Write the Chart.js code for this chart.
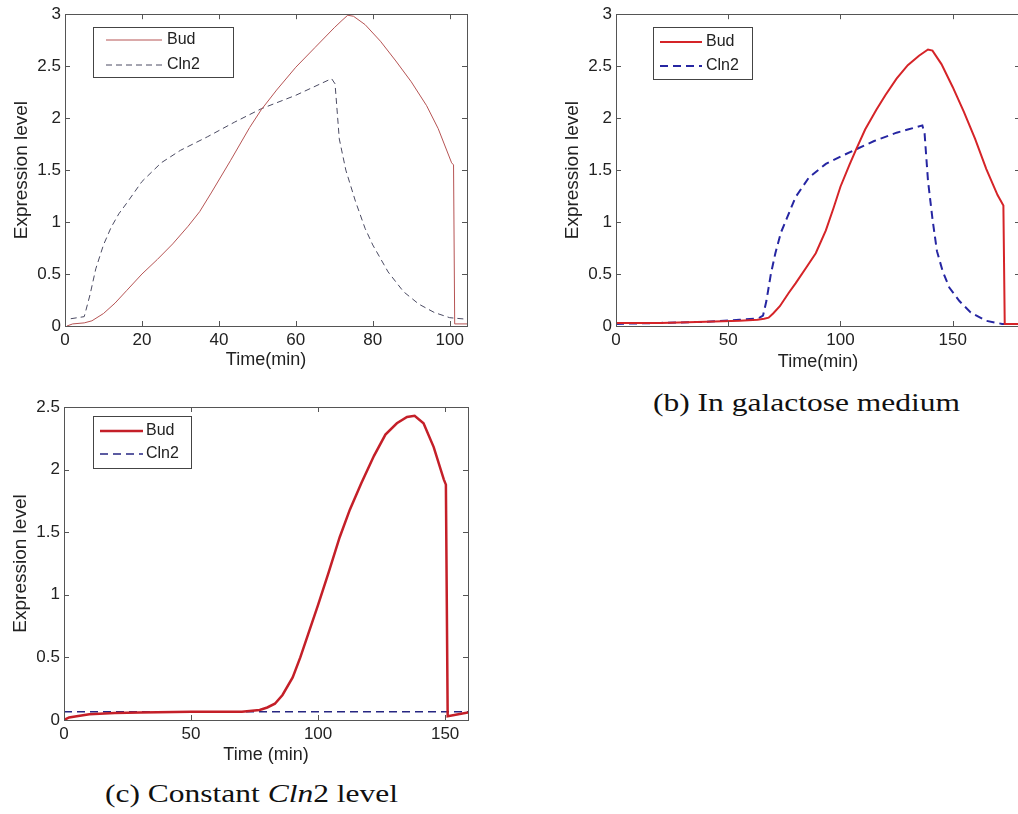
<!DOCTYPE html>
<html>
<head>
<meta charset="utf-8">
<script src="https://cdn.jsdelivr.net/npm/chart.js@4.4.1/dist/chart.umd.min.js"></script>
<style>
  html, body { margin: 0; padding: 0; background: #fff; }
  body { width: 1018px; height: 814px; overflow: hidden; position: relative; }
  canvas { position: absolute; }
  .caption {
    position: absolute; font-family: "Liberation Serif", serif; font-size: 25px; line-height: 25px;
    color: #111; white-space: nowrap; transform: scaleX(1.26); transform-origin: left top;
  }
</style>
</head>
<body>
<canvas id="chartA" width="480" height="380" style="left:0;top:0"></canvas>
<canvas id="chartB" width="500" height="380" style="left:540px;top:0"></canvas>
<canvas id="chartC" width="480" height="400" style="left:0;top:380px"></canvas>
<div class="caption" style="left:653px;top:390px">(b) In galactose medium</div>
<div class="caption" style="left:105px;top:781px">(c) Constant <i>Cln</i>2 level</div>
<script>
// (a) normal cycle
const budTimeA  = [0.5, 2, 5, 7, 10, 13, 16, 20, 24, 28, 32, 35, 38, 43, 48, 51, 55, 60, 65, 70, 72, 73.5, 75, 78, 82, 86, 90, 94, 97, 100.5, 101, 101.3, 104.5];
const budLevelA = [0, 0.02, 0.03, 0.05, 0.12, 0.22, 0.34, 0.5, 0.64, 0.79, 0.96, 1.1, 1.28, 1.59, 1.91, 2.08, 2.27, 2.49, 2.68, 2.87, 2.94, 2.99, 2.98, 2.9, 2.74, 2.55, 2.35, 2.12, 1.9, 1.57, 1.55, 0.02, 0.02];
const cln2TimeA  = [1.5, 5, 6.5, 8, 10, 12, 14, 16, 20, 25, 30, 37, 44, 51, 60, 69.3, 70.2, 71.3, 73, 75.5, 78, 80, 84, 88, 92, 96, 100, 104.5];
const cln2LevelA = [0.07, 0.09, 0.3, 0.55, 0.78, 0.95, 1.08, 1.18, 1.39, 1.57, 1.69, 1.82, 1.96, 2.09, 2.22, 2.38, 2.33, 1.8, 1.5, 1.2, 0.94, 0.78, 0.52, 0.33, 0.21, 0.13, 0.08, 0.065];
const xTicksA = [0, 20, 40, 60, 80, 100];
const yTicksA = [0, 0.5, 1, 1.5, 2, 2.5, 3];

// (b) galactose medium
const budTimeB  = [0, 20, 40, 55, 63, 66, 68, 70, 73, 77, 80, 85, 89, 93.5, 97, 100, 104, 107, 111, 116, 120, 125, 130, 135, 139, 141, 145, 150, 155, 160, 165, 170, 172.6, 173.2, 180];
const budLevelB = [0.03, 0.03, 0.04, 0.05, 0.06, 0.07, 0.08, 0.12, 0.19, 0.32, 0.41, 0.57, 0.7, 0.92, 1.14, 1.34, 1.55, 1.7, 1.89, 2.08, 2.22, 2.38, 2.51, 2.6, 2.66, 2.65, 2.52, 2.3, 2.06, 1.8, 1.51, 1.26, 1.16, 0.02, 0.02];
const cln2TimeB  = [0, 20, 40, 55, 62, 64, 65.5, 67, 69, 71, 73.5, 76, 80, 86, 93.5, 101, 107, 115, 125, 130, 136.5, 137.5, 139, 141, 143, 145.5, 148.5, 153, 158, 165, 172, 180];
const cln2LevelB = [0.02, 0.03, 0.04, 0.06, 0.07, 0.08, 0.1, 0.24, 0.5, 0.7, 0.9, 1.03, 1.24, 1.43, 1.56, 1.64, 1.7, 1.78, 1.86, 1.89, 1.93, 1.85, 1.4, 1.03, 0.72, 0.53, 0.37, 0.24, 0.13, 0.05, 0.02, 0.02];
const xTicksB = [0, 50, 100, 150];
const yTicksB = [0, 0.5, 1, 1.5, 2, 2.5, 3];

// (c) constant Cln2
const budTimeC  = [0, 2, 5, 10, 20, 30, 50, 70, 77, 80, 83, 86, 90, 93, 96, 100, 104, 108.5, 112.5, 117, 122, 126.5, 131, 135, 138, 141.5, 145.5, 149.5, 150.3, 151, 159];
const budLevelC = [0, 0.02, 0.03, 0.045, 0.055, 0.06, 0.065, 0.065, 0.08, 0.1, 0.13, 0.2, 0.34, 0.5, 0.68, 0.92, 1.17, 1.46, 1.68, 1.89, 2.11, 2.28, 2.37, 2.42, 2.43, 2.37, 2.18, 1.92, 1.88, 0.03, 0.06];
const cln2TimeC  = [0, 159];
const cln2LevelC = [0.065, 0.065];
const xTicksC = [0, 50, 100, 150];
const yTicksC = [0, 0.5, 1, 1.5, 2, 2.5];

const sans = '"Liberation Sans", Arial, sans-serif';

function points(xs, ys) {
  return xs.map((x, i) => ({ x: x, y: ys[i] }));
}

// matlab-ish box: frame, inward ticks on all four sides, boxed legend
const frameTicks = {
  id: 'frameTicks',
  afterDraw(chart, args, lg) {
    const ctx = chart.ctx;
    const { left, right, top, bottom } = chart.chartArea;
    const xs = chart.scales.x, ys = chart.scales.y;
    ctx.save();
    ctx.strokeStyle = '#555';
    ctx.lineWidth = 1;
    ctx.strokeRect(Math.round(left) + 0.5, Math.round(top) + 0.5, Math.round(right - left), Math.round(bottom - top));
    ctx.beginPath();
    xs.ticks.forEach(t => {
      const px = Math.round(xs.getPixelForValue(t.value)) + 0.5;
      ctx.moveTo(px, bottom); ctx.lineTo(px, bottom - 5);
      ctx.moveTo(px, top); ctx.lineTo(px, top + 5);
    });
    ys.ticks.forEach(t => {
      const py = Math.round(ys.getPixelForValue(t.value)) + 0.5;
      ctx.moveTo(left, py); ctx.lineTo(left + 5, py);
      ctx.moveTo(right, py); ctx.lineTo(right - 5, py);
    });
    ctx.stroke();

    ctx.fillStyle = '#fff';
    ctx.fillRect(lg.x, lg.y, lg.w, lg.h);
    ctx.strokeStyle = '#444';
    ctx.strokeRect(lg.x + 0.5, lg.y + 0.5, lg.w, lg.h);
    chart.data.datasets.forEach((ds, i) => {
      const y = lg.rows[i];
      ctx.strokeStyle = ds.borderColor;
      ctx.lineWidth = ds.borderWidth;
      ctx.setLineDash(ds.borderDash || []);
      ctx.beginPath();
      ctx.moveTo(lg.lineX0, y);
      ctx.lineTo(lg.lineX1, y);
      ctx.stroke();
      ctx.setLineDash([]);
      ctx.fillStyle = '#222';
      ctx.font = '16px ' + sans;
      ctx.textBaseline = 'middle';
      ctx.fillText(ds.label, lg.textX, y);
    });
    ctx.restore();
  }
};

function makePanel(id, p) {
  return new Chart(document.getElementById(id), {
    type: 'line',
    data: {
      datasets: [
        { label: 'Bud', data: p.bud, borderColor: p.budColor, borderWidth: p.budWidth,
          pointRadius: 0, tension: 0, fill: false },
        { label: 'Cln2', data: p.cln2, borderColor: p.cln2Color, borderWidth: p.cln2Width,
          borderDash: p.dash, pointRadius: 0, tension: 0, fill: false }
      ]
    },
    options: {
      responsive: false,
      animation: false,
      layout: { padding: p.padding },
      plugins: { legend: { display: false }, tooltip: { enabled: false }, frameTicks: p.legend },
      scales: {
        x: {
          type: 'linear', min: 0, max: p.xMax,
          grid: { display: false, drawTicks: false }, border: { display: false },
          ticks: { font: { family: sans, size: 17 }, color: '#222', padding: 4, maxRotation: 0,
                   autoSkip: false, callback: v => String(v) },
          afterBuildTicks: s => { s.ticks = p.xTicks.map(v => ({ value: v })); },
          afterFit: s => { s.height = p.xAxisH; },
          title: { display: true, text: p.xTitle, color: '#222', font: { family: sans, size: 18 },
                   padding: { top: 0, bottom: p.xTitlePad } }
        },
        y: {
          type: 'linear', min: 0, max: p.yMax,
          grid: { display: false, drawTicks: false }, border: { display: false },
          ticks: { font: { family: sans, size: 17 }, color: '#222', padding: 4,
                   autoSkip: false, callback: v => String(v) },
          afterBuildTicks: s => { s.ticks = p.yTicks.map(v => ({ value: v })); },
          afterFit: s => { s.width = p.yAxisW; },
          title: { display: true, text: 'Expression level', color: '#222', font: { family: sans, size: 19 },
                   padding: { top: p.yTitlePad, bottom: 0 } }
        }
      }
    },
    plugins: [frameTicks]
  });
}

makePanel('chartA', {
  bud: points(budTimeA, budLevelA), cln2: points(cln2TimeA, cln2LevelA),
  budColor: '#b65454', budWidth: 1, cln2Color: '#4a4a62', cln2Width: 1, dash: [6, 4],
  xMax: 104.5, yMax: 3, xTicks: xTicksA, yTicks: yTicksA, xTitle: 'Time(min)',
  padding: { left: 0, top: 14, right: 13, bottom: 0 }, yAxisW: 65, xAxisH: 54,
  xTitlePad: 9, yTitlePad: 10,
  legend: { x: 93, y: 27, w: 140, h: 50, rows: [40, 65], lineX0: 106, lineX1: 162, textX: 167 }
});

makePanel('chartB', {
  bud: points(budTimeB, budLevelB), cln2: points(cln2TimeB, cln2LevelB),
  budColor: '#d52428', budWidth: 2, cln2Color: '#2626a2', cln2Width: 2, dash: [8, 5],
  xMax: 180, yMax: 3, xTicks: xTicksB, yTicks: yTicksB, xTitle: 'Time(min)',
  padding: { left: 0, top: 14, right: 20, bottom: 0 }, yAxisW: 76, xAxisH: 54,
  xTitlePad: 7, yTitlePad: 21,
  legend: { x: 113, y: 27, w: 99, h: 52, rows: [42, 66], lineX0: 120, lineX1: 162, textX: 166 }
});

makePanel('chartC', {
  bud: points(budTimeC, budLevelC), cln2: points(cln2TimeC, cln2LevelC),
  budColor: '#c41f28', budWidth: 2.5, cln2Color: '#262682', cln2Width: 1.5, dash: [8, 5],
  xMax: 159, yMax: 2.5, xTicks: xTicksC, yTicks: yTicksC, xTitle: 'Time (min)',
  padding: { left: 0, top: 27, right: 12, bottom: 0 }, yAxisW: 64, xAxisH: 60,
  xTitlePad: 14, yTitlePad: 9,
  legend: { x: 93, y: 36, w: 98, h: 52, rows: [51, 74], lineX0: 100, lineX1: 143, textX: 146 }
});
</script>
</body>
</html>
